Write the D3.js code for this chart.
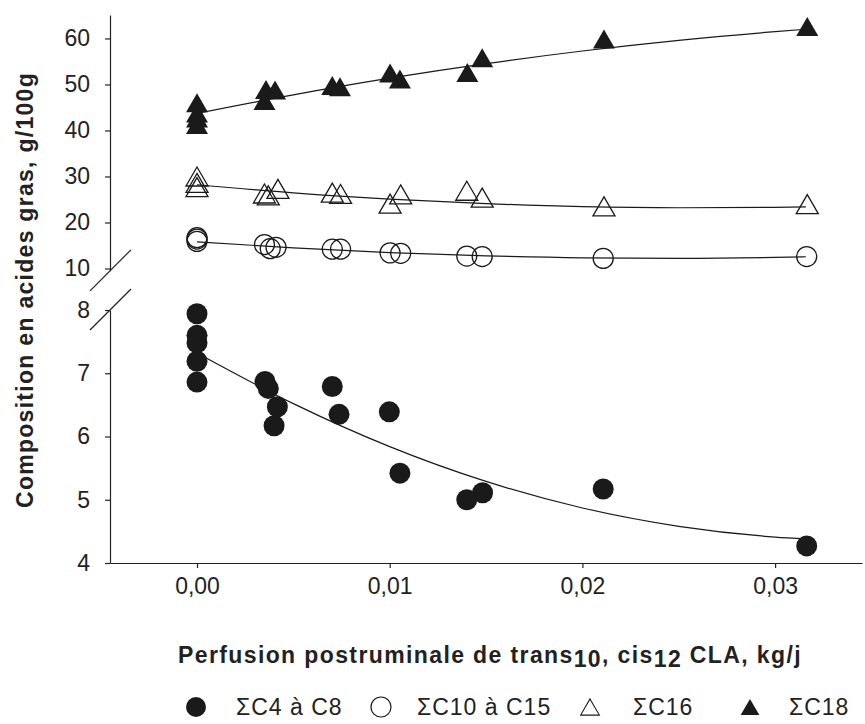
<!DOCTYPE html>
<html>
    <head>
        <meta charset="utf-8">
        <script src="https://d3js.org/d3.v7.min.js"></script>
        <title>CLA - acides gras</title>
        <style>
            body {
                margin: 0;
                background: #fff;
                font-family: "Liberation Sans", Arial, sans-serif;
            }
            .axis text {
                fill: #222;
                font-size: 23px;
                font-family: "Liberation Sans", Arial, sans-serif;
            }
            .axis path, .axis line {
                stroke: #222;
                stroke-width: 1.2;
            }
        </style>
    </head>
    <body>
        <svg></svg>
    </body>
    <script>
        // tick labels
        var xTicks = [0, 0.01, 0.02, 0.03];
        var yTicksLow = [4, 5, 6, 7, 8];
        var yTicksHigh = [10, 20, 30, 40, 50, 60];

        // sum C4 to C8 (lower segment)
        var c4X = [0, 0, 0, 0, 0, 0.00353, 0.0037, 0.00417, 0.0040, 0.00702, 0.00737, 0.00998, 0.01053, 0.0140, 0.01482, 0.02108, 0.03164];
        var c4Y = [7.94, 7.60, 7.48, 7.19, 6.86, 6.87, 6.76, 6.47, 6.17, 6.79, 6.35, 6.39, 5.42, 5.00, 5.11, 5.17, 4.27];

        // sum C10 to C15
        var c10X = [0, 0, 0, 0.0035, 0.0038, 0.0041, 0.00702, 0.00745, 0.01002, 0.01057, 0.0140, 0.0148, 0.02108, 0.03164];
        var c10Y = [16.7, 16.4, 15.9, 15.2, 14.3, 14.6, 14.2, 14.2, 13.4, 13.3, 12.7, 12.6, 12.2, 12.6];

        // sum C16
        var c16X = [0, 0, 0, 0.0035, 0.0037, 0.0042, 0.00702, 0.00745, 0.01002, 0.01057, 0.0140, 0.0148, 0.02112, 0.03167];
        var c16Y = [30.0, 28.6, 27.7, 26.3, 25.9, 27.3, 26.5, 26.2, 24.1, 26.1, 26.9, 25.4, 23.5, 24.0];

        // sum C18
        var c18X = [0, 0, 0, 0, 0.0035, 0.00358, 0.00405, 0.00702, 0.00742, 0.01002, 0.01053, 0.01403, 0.0148, 0.02112, 0.03167];
        var c18Y = [46.0, 43.8, 42.7, 41.3, 46.5, 48.9, 48.8, 49.8, 49.5, 52.5, 51.2, 52.6, 55.8, 59.9, 62.6];

        // fitted curves
        var fitX = [0, 0.005, 0.01, 0.015, 0.02, 0.025, 0.03, 0.0316];
        var fitC4 = [7.32, 6.52, 5.84, 5.29, 4.87, 4.58, 4.41, 4.38];
        var fitC10 = [15.8, 14.5, 13.45, 12.75, 12.33, 12.22, 12.42, 12.55];
        var fitC16 = [28.2, 26.45, 25.1, 24.1, 23.45, 23.2, 23.3, 23.4];
        var fitC18 = [43.7, 47.74, 51.36, 54.53, 57.28, 59.6, 61.48, 62.0];

        var legendLabels = ['\u03A3C4 à C8', '\u03A3C10 à C15', '\u03A3C16', '\u03A3C18'];

        // size
        var width = 865, height = 724;
        var x0 = 110, x1 = 862, yBottom = 563;

        var svg = d3.select('svg')
            .attr('width', width)
            .attr('height', height);

        // scales (broken y axis: two segments)
        var xScale = d3.scaleLinear().domain([-0.004515, 0.03451]).range([x0, x1]);
        var yLow = d3.scaleLinear().domain([4, 8]).range([yBottom, 310]);
        var yHigh = d3.scaleLinear().domain([9.5, 65.1]).range([270.8, 15]);

        // x axis
        svg.append('g')
            .attr('class', 'x axis')
            .attr('transform', 'translate(0,' + yBottom + ')')
            .call(d3.axisBottom(xScale).tickValues(xTicks).tickSize(5).tickSizeOuter(0).tickPadding(10)
                .tickFormat(function (d) { return d3.format('.2f')(d).replace('.', ','); }));

        // y axis, lower part
        svg.append('g')
            .attr('class', 'y axis')
            .attr('transform', 'translate(' + x0 + ',0)')
            .call(d3.axisLeft(yLow).tickValues(yTicksLow).tickSize(5).tickSizeOuter(0).tickPadding(15)
                .tickFormat(d3.format('d')));

        // y axis, upper part
        svg.append('g')
            .attr('class', 'y axis')
            .attr('transform', 'translate(' + x0 + ',0)')
            .call(d3.axisLeft(yHigh).tickValues(yTicksHigh).tickSize(5).tickSizeOuter(0).tickPadding(15)
                .tickFormat(d3.format('d')));

        // break marks
        [yHigh.range()[0], yLow.range()[1]].forEach(function (yb) {
            svg.append('line')
                .attr('x1', x0 - 20).attr('y1', yb + 20)
                .attr('x2', x0 + 21).attr('y2', yb - 21)
                .attr('stroke', '#222')
                .attr('stroke-width', 1.2);
        });

        // curves
        function drawFit(values, yScale) {
            var line = d3.line()
                .x(function (d, i) { return xScale(fitX[i]); })
                .y(function (d) { return yScale(d); })
                .curve(d3.curveMonotoneX);
            svg.append('path')
                .datum(values)
                .attr('d', line)
                .attr('fill', 'none')
                .attr('stroke', '#1a1a1a')
                .attr('stroke-width', 1.2);
        }
        drawFit(fitC4, yLow);
        drawFit(fitC10, yHigh);
        drawFit(fitC16, yHigh);
        drawFit(fitC18, yHigh);

        // markers
        var triPath = 'M0,-9.5L11,9.5L-11,9.5Z';

        function drawPoints(xs, ys, yScale, kind) {
            var g = svg.append('g');
            xs.forEach(function (xv, i) {
                var cx = xScale(xv), cy = yScale(ys[i]);
                if (kind === 'dot' || kind === 'ring') {
                    g.append('circle')
                        .attr('cx', cx).attr('cy', cy)
                        .attr('r', kind === 'dot' ? 10.5 : 10)
                        .attr('fill', kind === 'dot' ? '#1a1a1a' : 'none')
                        .attr('stroke', '#1a1a1a')
                        .attr('stroke-width', kind === 'dot' ? 0 : 1.3);
                } else {
                    g.append('path')
                        .attr('d', triPath)
                        .attr('transform', 'translate(' + cx + ',' + cy + ')')
                        .attr('fill', kind === 'tri' ? '#1a1a1a' : 'none')
                        .attr('stroke', '#1a1a1a')
                        .attr('stroke-width', kind === 'tri' ? 0 : 1.3);
                }
            });
        }
        drawPoints(c10X, c10Y, yHigh, 'ring');
        drawPoints(c16X, c16Y, yHigh, 'otri');
        drawPoints(c18X, c18Y, yHigh, 'tri');
        drawPoints(c4X, c4Y, yLow, 'dot');

        // y title
        var yTitle = svg.append('text')
            .attr('transform', 'translate(33,290) rotate(-90)')
            .attr('text-anchor', 'middle')
            .style('font-size', '23px')
            .style('font-weight', 'bold')
            .style('fill', '#222')
            .text('Composition en acides gras, g/100g');
        fitText(yTitle, 436);

        // x title with subscripts
        var xTitle = svg.append('text')
            .attr('x', 178)
            .attr('y', 663)
            .style('font-size', '23px')
            .style('font-weight', 'bold')
            .style('fill', '#222');
        xTitle.append('tspan').text('Perfusion postruminale de trans');
        xTitle.append('tspan').attr('dy', 4).text('10');
        xTitle.append('tspan').attr('dy', -4).text(', cis');
        xTitle.append('tspan').attr('dy', 4).text('12');
        xTitle.append('tspan').attr('dy', -4).text(' CLA, kg/j');
        fitText(xTitle, 624);

        function fitText(sel, target) {
            var node = sel.node();
            var n = node.textContent.length;
            var w = node.getComputedTextLength();
            sel.style('letter-spacing', ((target - w) / n) + 'px');
        }

        // legend
        var legendX = [196, 381, 590, 750];
        var legendTextX = [236, 417, 633, 789];
        var legendKinds = ['dot', 'ring', 'otri', 'tri'];
        var legend = svg.append('g');
        legendKinds.forEach(function (k, i) {
            var cx = legendX[i], cy = 707;
            if (k === 'dot' || k === 'ring') {
                legend.append('circle')
                    .attr('cx', cx).attr('cy', cy).attr('r', 10)
                    .attr('fill', k === 'dot' ? '#1a1a1a' : 'none')
                    .attr('stroke', '#1a1a1a')
                    .attr('stroke-width', k === 'dot' ? 0 : 1.2);
            } else {
                legend.append('path')
                    .attr('d', triPath)
                    .attr('transform', 'translate(' + cx + ',' + cy + ') scale(0.85)')
                    .attr('fill', k === 'tri' ? '#1a1a1a' : 'none')
                    .attr('stroke', '#1a1a1a')
                    .attr('stroke-width', k === 'tri' ? 0 : 1.3);
            }
            legend.append('text')
                .attr('x', legendTextX[i])
                .attr('y', 715)
                .style('font-size', '23px')
                .style('fill', '#222')
                .style('letter-spacing', '1px')
                .text(legendLabels[i]);
        });
    </script>
</html>
